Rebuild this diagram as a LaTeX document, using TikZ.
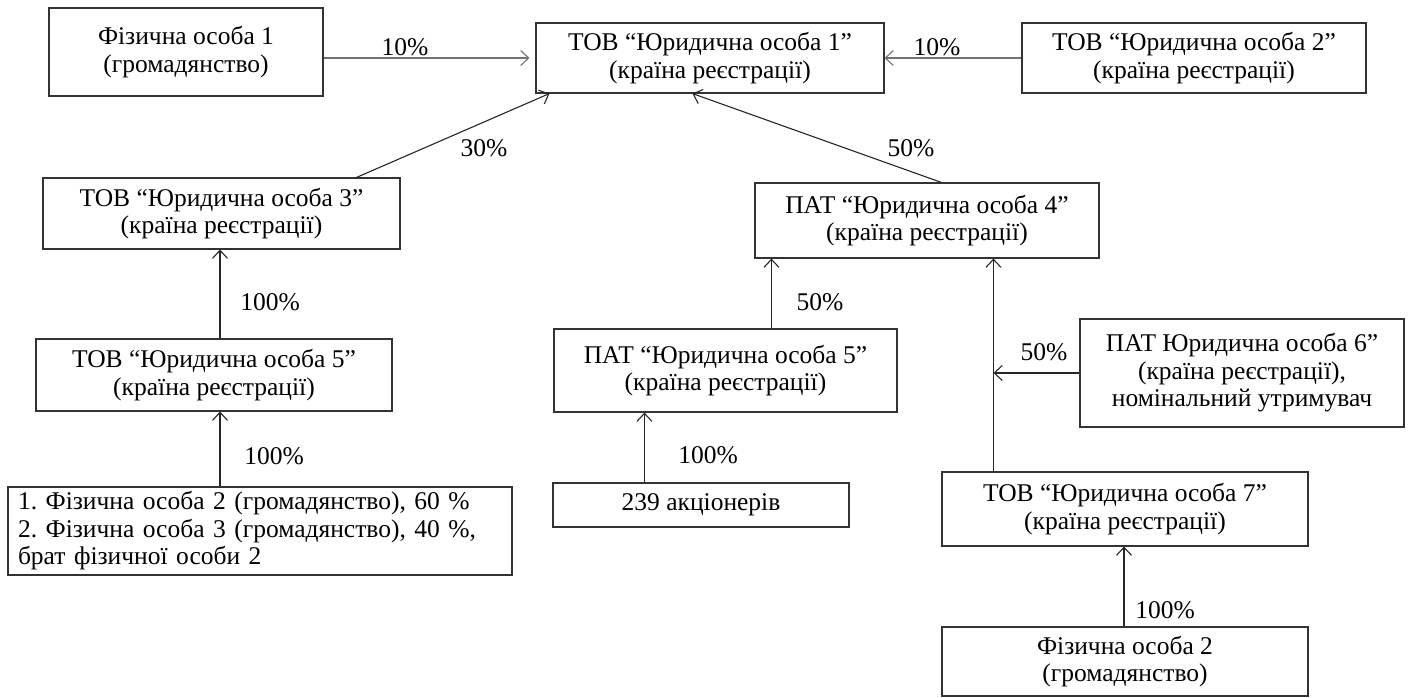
\documentclass[tikz,border=0pt]{standalone}
\usepackage{fontspec}
\setmainfont{Liberation Serif}
\usetikzlibrary{arrows.meta,calc}
\begin{document}
\frenchspacing
\begin{tikzpicture}[x=1pt,y=-1pt,
  txt/.style={font=\fontsize{25.5}{27.5}\selectfont},
  box/.style={txt, draw=black!80, line width=1.1pt, inner sep=0pt, align=center},
  lbl/.style={txt, inner sep=0pt},
  arr/.style={draw=black!85, line width=1.1pt, -{Straight Barb[length=8pt,width=15pt,line width=1.1pt]}},
  arrlight/.style={arr, draw=black!55},
  seg/.style={draw=black!85, line width=1.1pt}]
\useasboundingbox (0,0) rectangle (1409,697);
% boxes
\node[box, minimum width=274pt, minimum height=88pt] (F1) at (186,52) {Фізична особа 1\\(громадянство)};
\node[box, minimum width=348pt, minimum height=70pt] (J1) at (710,58) {ТОВ “Юридична особа 1”\\(країна реєстрації)};
\node[box, minimum width=344pt, minimum height=70pt] (J2) at (1194,58) {ТОВ “Юридична особа 2”\\(країна реєстрації)};
\node[box, minimum width=357pt, minimum height=71pt] (J3) at (221.5,213.5) {ТОВ “Юридична особа 3”\\(країна реєстрації)};
\node[box, minimum width=344pt, minimum height=75pt] (J4) at (927,220.5) {ПАТ “Юридична особа 4”\\(країна реєстрації)};
\node[box, minimum width=356pt, minimum height=72pt] (J5L) at (214,375) {ТОВ “Юридична особа 5”\\(країна реєстрації)};
\node[box, minimum width=343pt, minimum height=83pt] (J5P) at (725.5,370.5) {ПАТ “Юридична особа 5”\\(країна реєстрації)};
\node[box, minimum width=324pt, minimum height=108pt] (J6) at (1242,373) {ПАТ Юридична особа 6”\\(країна реєстрації),\\номінальний утримувач};
\node[box, minimum width=504pt, minimum height=88pt, text width=484pt, inner xsep=10pt, align=left] (BL) at (260,531) {1. Фізична особа 2 (громадянство), 60 \%\\2. Фізична особа 3 (громадянство), 40 \%,\\брат фізичної особи 2};
\node[box, minimum width=296pt, minimum height=44pt] (A239) at (701,505) {239 акціонерів};
\node[box, minimum width=366pt, minimum height=74pt] (J7) at (1125,509) {ТОВ “Юридична особа 7”\\(країна реєстрації)};
\node[box, minimum width=366pt, minimum height=69pt] (F2) at (1125,661.5) {Фізична особа 2\\(громадянство)};
% connectors
\draw[arrlight] (F1.east |- J1.west) -- ([xshift=-6pt]J1.west);
\draw[arrlight] (J2.west) -- (J1.east);
\draw[arr] ([xshift=314pt]J3.north west) -- ([xshift=14pt]J1.south west);
\draw[arr] ([xshift=187pt]J4.north west) -- ([xshift=157pt]J1.south west);
\draw[arr] ([xshift=6pt]J5L.north) -- ([xshift=6pt]J5L.north |- J3.south);
\draw[arr] ([xshift=-40pt]BL.north) -- ([xshift=-40pt]BL.north |- J5L.south);
\draw[arr] ([xshift=218pt]J5P.north west) -- ([xshift=218pt]J5P.north west |- J4.south);
\draw[arr] ([xshift=92pt]A239.north west) -- ([xshift=92pt]A239.north west |- J5P.south);
\coordinate (V) at ([xshift=52pt]J7.north west);
\draw[arr] (V) -- (V |- J4.south);
\draw[arr] (J6.west) -- (J6.west -| V);
\draw[arr] ([xshift=-1pt]F2.north) -- ([xshift=-1pt]F2.north |- J7.south);
% labels
\node[lbl] (L1) at (405,47) {10\%};
\node[lbl] (L2) at (937,47) {10\%};
\node[lbl] (L3) at (484,148) {30\%};
\node[lbl] (L4) at (911,148) {50\%};
\node[lbl] (L5) at (270,302) {100\%};
\node[lbl] (L6) at (274,456) {100\%};
\node[lbl] (L7) at (820,302) {50\%};
\node[lbl] (L8) at (708,455) {100\%};
\node[lbl] (L9) at (1044,352) {50\%};
\node[lbl] (L10) at (1165,610) {100\%};
\end{tikzpicture}
\end{document}
